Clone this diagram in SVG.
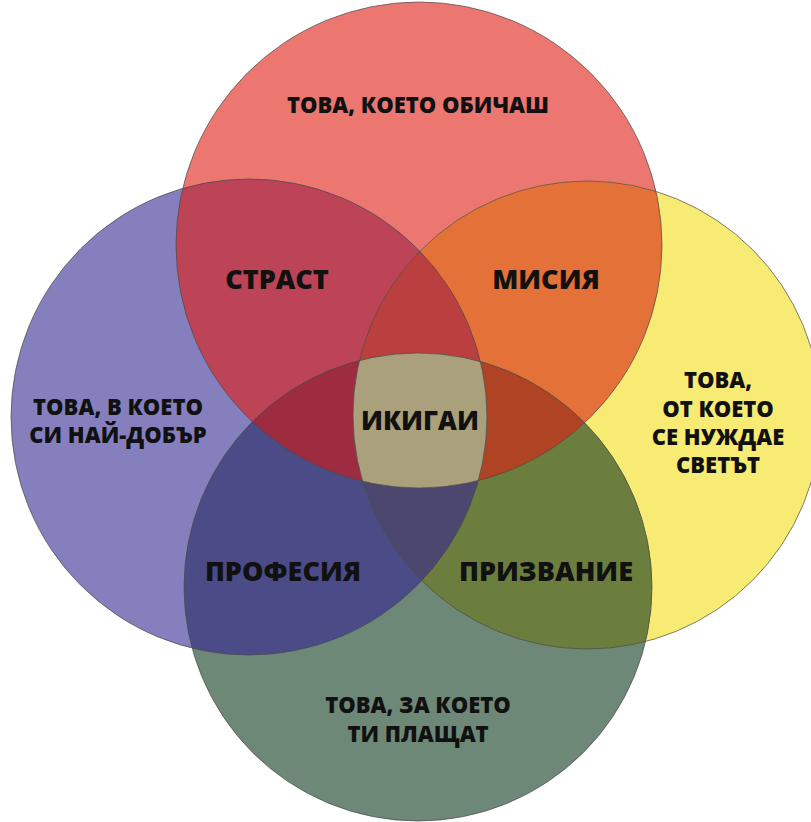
<svg xmlns="http://www.w3.org/2000/svg" width="811" height="822" viewBox="0 0 811 822">
<style>
.lbl{font-family:"Open Sans","Liberation Sans",sans-serif;font-weight:800;fill:#111;text-anchor:middle}
.s{font-size:22px}
.m{font-size:27px}
.k{font-size:26px}
.edge{fill:none;stroke:#4a4a4a;stroke-width:1;stroke-opacity:0.7}
</style>
<defs>
<clipPath id="cR"><circle cx="419" cy="245" r="243"/></clipPath>
<clipPath id="cP"><circle cx="249" cy="417" r="238"/></clipPath>
<clipPath id="cY"><circle cx="587" cy="415" r="234"/></clipPath>
<clipPath id="cG"><circle cx="418" cy="587" r="234"/></clipPath>
</defs>
<rect width="811" height="822" fill="#ffffff"/>
<g id="circle-love"><circle cx="419" cy="245" r="243" fill="#EC7770"/></g>
<g id="circle-good"><circle cx="249" cy="417" r="238" fill="#857FBE"/></g>
<g id="circle-world"><circle cx="587" cy="415" r="234" fill="#F8EB74"/></g>
<g id="circle-paid"><circle cx="418" cy="587" r="234" fill="#6E8878"/></g>
<g id="overlaps">
<g id="passion" clip-path="url(#cR)"><circle cx="249" cy="417" r="238" fill="#BC4456"/></g>
<g id="mission" clip-path="url(#cR)"><circle cx="587" cy="415" r="234" fill="#E47137"/></g>
<g id="profession" clip-path="url(#cP)"><circle cx="418" cy="587" r="234" fill="#4B4C87"/></g>
<g id="vocation" clip-path="url(#cY)"><circle cx="418" cy="587" r="234" fill="#6C7E3D"/></g>
<g clip-path="url(#cR)"><g clip-path="url(#cP)"><circle cx="587" cy="415" r="234" fill="#BB3F3F"/></g></g>
<g clip-path="url(#cR)"><g clip-path="url(#cP)"><circle cx="418" cy="587" r="234" fill="#9E2C40"/></g></g>
<g clip-path="url(#cR)"><g clip-path="url(#cY)"><circle cx="418" cy="587" r="234" fill="#B04324"/></g></g>
<g clip-path="url(#cP)"><g clip-path="url(#cY)"><circle cx="418" cy="587" r="234" fill="#4C476E"/></g></g>
<g id="ikigai" clip-path="url(#cR)"><g clip-path="url(#cP)"><g clip-path="url(#cY)"><circle cx="418" cy="587" r="234" fill="#AAA07B"/></g></g></g>
</g>
<g id="outlines">
<circle class="edge" cx="419" cy="245" r="243"/>
<circle class="edge" cx="249" cy="417" r="238"/>
<circle class="edge" cx="587" cy="415" r="234"/>
<circle class="edge" cx="418" cy="587" r="234"/>
</g>
<g id="labels">
<text class="lbl s" x="418" y="113">ТОВА, КОЕТО ОБИЧАШ</text>
<text class="lbl s" x="118" y="415">ТОВА, В КОЕТО</text>
<text class="lbl s" x="118" y="443">СИ НАЙ-ДОБЪР</text>
<text class="lbl s" x="718" y="388">ТОВА,</text>
<text class="lbl s" x="718" y="417">ОТ КОЕТО</text>
<text class="lbl s" x="718" y="445">СЕ НУЖДАЕ</text>
<text class="lbl s" x="718" y="473">СВЕТЪТ</text>
<text class="lbl s" x="418" y="713">ТОВА, ЗА КОЕТО</text>
<text class="lbl s" x="418" y="742">ТИ ПЛАЩАТ</text>
<text class="lbl m" x="277" y="289">СТРАСТ</text>
<text class="lbl m" x="546" y="289">МИСИЯ</text>
<text class="lbl k" x="420" y="430">ИКИГАИ</text>
<text class="lbl m" x="283" y="581">ПРОФЕСИЯ</text>
<text class="lbl m" x="546" y="581">ПРИЗВАНИЕ</text>
</g>
</svg>
